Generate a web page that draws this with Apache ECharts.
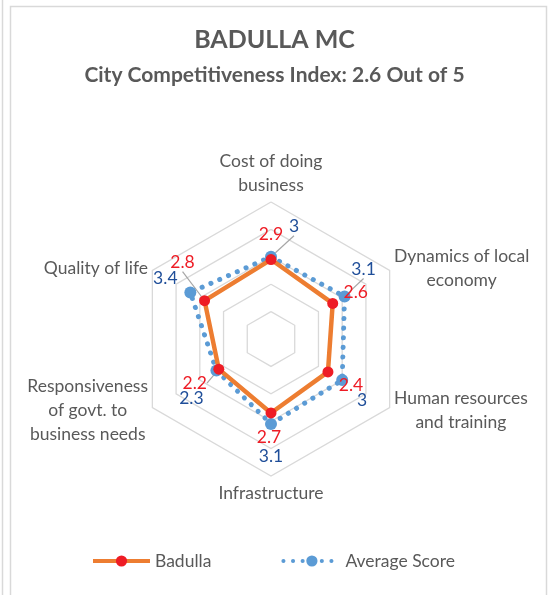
<!DOCTYPE html>
<html>
<head>
<meta charset="utf-8">
<script src="https://cdn.jsdelivr.net/npm/echarts@6/dist/echarts.min.js"></script>
<style>
	html, body { margin: 0; padding: 0; background: #fff; }
	#chart { width: 549px; height: 595px; }
</style>
</head>
<body>
<div id="chart"></div>
<script>
	// categories clockwise from the top
	var categories = ['Cost of doing\nbusiness', 'Dynamics of local\neconomy', 'Human resources\nand training', 'Infrastructure', 'Responsiveness\nof govt. to\nbusiness needs', 'Quality of life'];
	var badulla = [2.9, 2.6, 2.4, 2.7, 2.2, 2.8];
	var average = [3, 3.1, 3, 3.1, 2.3, 3.4];
	var maxScore = 5;

	// label nudges (px) so the numbers sit like the excel original
	var badullaOffsets = [[0, -25], [23, -11], [23, 13], [-2, 24], [-24, 14], [-22, -38]];
	var averageOffsets = [[23, -30], [19, -27], [20, 20], [0, 32], [-25, 28], [-25, -14]];
	// which labels get a leader line
	var badullaLeaders = [false, false, false, true, true, true];
	var averageLeaders = [true, true, false, false, false, false];

	var font = 'Lato';
	var grey = '#595959';
	var center = [271, 339];
	var radius = 137;

	// echarts radar runs counter-clockwise, so flip the order for the grid
	var radarOrder = [0, 5, 4, 3, 2, 1];

	function polarData(values, leaders) {
		var step = 360 / values.length;
		var out = values.map(function (v, i) {
			return { value: [v, i * step], labelLine: { show: leaders[i] } };
		});
		// close the ring
		out.push({ value: [values[0], 360], symbol: 'none', label: { show: false } });
		return out;
	}

	function nudge(offsets) {
		return function (p) {
			var o = offsets[p.dataIndex] || [0, 0];
			return { dx: o[0], dy: o[1] };
		};
	}

	var chart = echarts.init(document.getElementById('chart'));
	chart.setOption({
		backgroundColor: '#fff',
		animation: false,
		graphic: [
			{ type: 'rect', shape: { x: 10.5, y: 6.5, width: 536, height: 620 }, style: { fill: 'none', stroke: '#d9d9d9', lineWidth: 1.5 } },
			{ type: 'line', shape: { x1: 2.5, y1: 0, x2: 2.5, y2: 595 }, style: { stroke: '#d9d9d9', lineWidth: 1.5 } }
		],
		title: [
			{
				text: 'BADULLA MC',
				left: 'center',
				top: 22,
				textStyle: { fontFamily: font, fontSize: 25, fontWeight: 'bold', color: grey }
			},
			{
				text: 'City Competitiveness Index: 2.6 Out of 5',
				left: 'center',
				top: 60,
				textStyle: { fontFamily: font, fontSize: 21, fontWeight: 'bold', color: grey }
			}
		],
		legend: {
			bottom: 20,
			left: 86,
			itemWidth: 57,
			itemHeight: 14,
			itemGap: 70,
			lineStyle: { width: 4 },
			textStyle: { fontFamily: font, fontSize: 17.5, color: grey },
			data: ['Badulla', 'Average Score']
		},
		radar: {
			center: center,
			radius: radius,
			startAngle: 90,
			shape: 'polygon',
			splitNumber: 5,
			nameGap: 5,
			axisName: {
				color: grey, fontFamily: font, fontSize: 17.5, lineHeight: 24,
				formatter: function (name) {
					return name.split('\n').map(function (l) { return '{c|' + l + '}'; }).join('\n');
				},
				rich: { c: { align: 'center', color: grey, fontFamily: font, fontSize: 17.5, lineHeight: 24 } }
			},
			indicator: radarOrder.map(function (i) {
				return { name: categories[i], min: 0, max: maxScore };
			}),
			splitLine: { lineStyle: { color: '#d9d9d9', width: 1.3 } },
			splitArea: { show: false },
			axisLine: { show: false }
		},
		polar: { center: center, radius: radius },
		angleAxis: { type: 'value', min: 0, max: 360, startAngle: 90, clockwise: true, show: false },
		radiusAxis: { type: 'value', min: 0, max: maxScore, show: false },
		series: [
			{
				name: 'Average Score',
				type: 'line',
				coordinateSystem: 'polar',
				data: polarData(average, averageLeaders),
				symbol: 'circle',
				symbolSize: 12,
				itemStyle: { color: '#5b9bd5' },
				lineStyle: { color: '#5b9bd5', width: 5, type: [0.1, 9.5], cap: 'round' },
				label: { show: true, position: 'inside', color: '#1f4e99', fontFamily: font, fontSize: 17.5,
					formatter: function (p) { return p.value[0]; } },
				labelLine: { show: false, lineStyle: { color: '#a6a6a6', width: 1.2 } },
				labelLayout: nudge(averageOffsets)
			},
			{
				name: 'Badulla',
				type: 'line',
				coordinateSystem: 'polar',
				data: polarData(badulla, badullaLeaders),
				symbol: 'circle',
				symbolSize: 11,
				itemStyle: { color: '#ee1c25' },
				lineStyle: { color: '#ed7d31', width: 4.5 },
				label: { show: true, position: 'inside', color: '#ee1c25', fontFamily: font, fontSize: 17.5,
					formatter: function (p) { return p.value[0]; } },
				labelLine: { show: false, lineStyle: { color: '#a6a6a6', width: 1.2 } },
				labelLayout: nudge(badullaOffsets)
			}
		]
	});
</script>
</body>
</html>
